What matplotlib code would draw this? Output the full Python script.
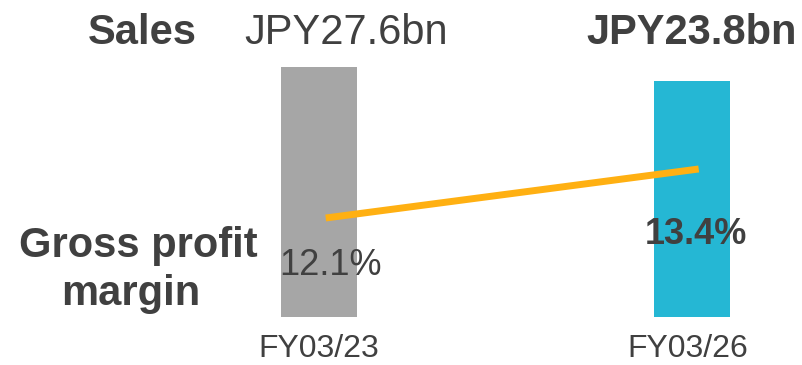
import matplotlib
matplotlib.use("Agg")
import matplotlib.pyplot as plt
import numpy as np

plt.rcParams['font.family'] = ['Liberation Sans', 'DejaVu Sans']

# Data
periods = ["FY03/23", "FY03/26"]
sales_bn = [27.6, 23.8]          # JPY bn
margin_pct = [12.1, 13.4]        # gross profit margin, %
bar_colors = ["#A6A6A6", "#25B7D4"]
line_color = "#FFB012"
text_color = "#404040"

W, H = 802, 365
fig = plt.figure(figsize=(W / 100, H / 100), dpi=100)
ax = fig.add_axes([0, 0, 1, 1])
ax.set_axis_off()

x = np.arange(len(periods))
spacing = 373.0
left_px = 319.0
ax.set_xlim(-left_px / spacing, (W - left_px) / spacing)

# Bars start from a floor below zero so the chart reads as a pictogram
k = 3.684
floor = -40.26
ax.set_ylim(floor - 48 / k, floor - 48 / k + H / k)
heights = np.array(sales_bn) - floor
ax.bar(x, heights, bottom=floor, width=0.206, color=bar_colors, zorder=1)

# Gross profit margin line on its own scale
ax2 = ax.twinx()
ax2.set_axis_off()
ax2.set_xlim(ax.get_xlim())
m = 37.7
m_lo = 12.1 - 147 / m
ax2.set_ylim(m_lo, m_lo + H / m)
ax2.plot(x + 0.018, margin_pct, color=line_color, lw=5,
         solid_capstyle='butt', zorder=3)


def ftext(px, py, s, va='baseline', **kw):
    fig.text(px / W, 1 - py / H, s, color=text_color, ha='center',
             va=va, **kw)


# Row headers
ftext(142, 44, "Sales", fontsize=30, fontweight='bold')
ftext(138, 257, "Gross profit", fontsize=30, fontweight='bold')
ftext(131, 305, "margin", fontsize=30, fontweight='bold')

# Sales values
ftext(346, 44, f"JPY{sales_bn[0]}bn", fontsize=30)
ftext(692, 44, f"JPY{sales_bn[1]}bn", fontsize=30, fontweight='bold')

# Margin values
ftext(330, 275, f"{margin_pct[0]}%", fontsize=26)
ftext(696, 244, f"{margin_pct[1]}%", fontsize=26, fontweight='bold')

# Period labels
ftext(319, 364, periods[0], va='bottom', fontsize=23)
ftext(688, 364, periods[1], va='bottom', fontsize=23)

fig.savefig("out.png", dpi=100, facecolor="white")
